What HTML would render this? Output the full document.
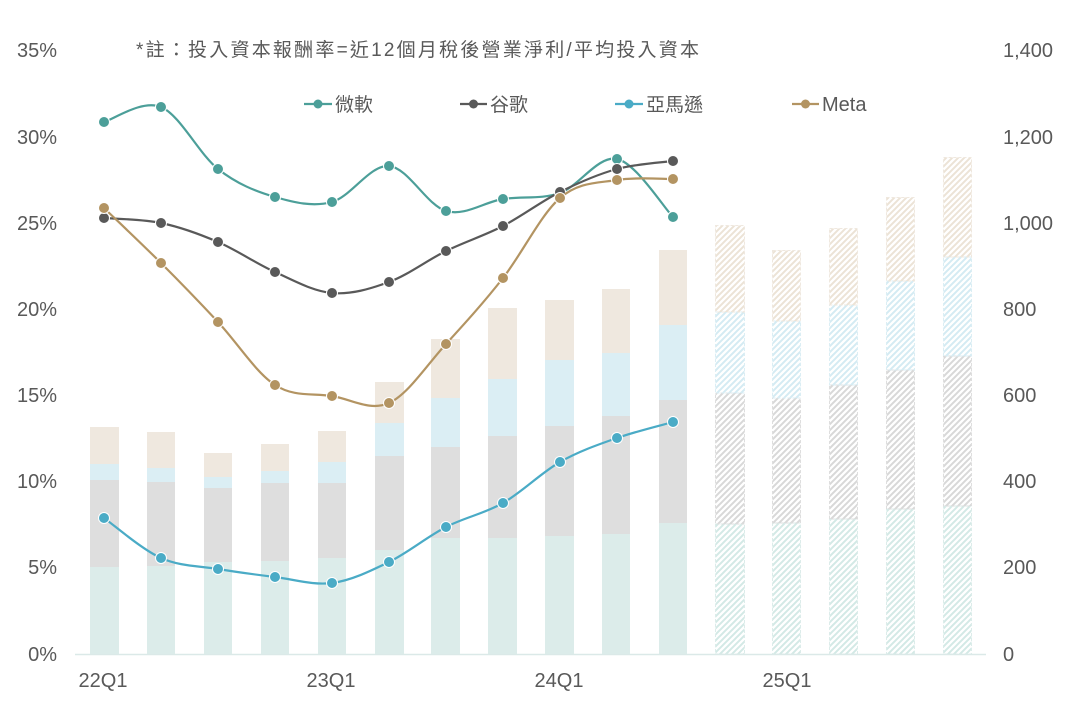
<!DOCTYPE html>
<html>
<head>
<meta charset="utf-8">
<style>
html,body{margin:0;padding:0;background:#fff;}
svg{display:block;}
text{font-family:"Liberation Sans","Noto Sans CJK TC",sans-serif;fill:#595959;}
</style>
</head>
<body>
<svg width="1077" height="718" viewBox="0 0 1077 718" xmlns="http://www.w3.org/2000/svg">
<defs>
  <pattern id="hT" patternUnits="userSpaceOnUse" width="6" height="6">
    <path d="M-1,1 l2,-2 M0,6 l6,-6 M5,7 l2,-2" stroke="#d3e9e6" stroke-width="2"/>
  </pattern>
  <pattern id="hG" patternUnits="userSpaceOnUse" width="6" height="6">
    <path d="M-1,1 l2,-2 M0,6 l6,-6 M5,7 l2,-2" stroke="#d8d8d8" stroke-width="2"/>
  </pattern>
  <pattern id="hB" patternUnits="userSpaceOnUse" width="6" height="6">
    <path d="M-1,1 l2,-2 M0,6 l6,-6 M5,7 l2,-2" stroke="#d4ebf3" stroke-width="2"/>
  </pattern>
  <pattern id="hM" patternUnits="userSpaceOnUse" width="6" height="6">
    <path d="M-1,1 l2,-2 M0,6 l6,-6 M5,7 l2,-2" stroke="#ece3d6" stroke-width="2"/>
  </pattern>
</defs>

<!-- title -->
<text x="136" y="56" font-size="19" textLength="563" lengthAdjust="spacing">*註：投入資本報酬率=近12個月稅後營業淨利/平均投入資本</text>

<!-- left axis labels -->
<g font-size="20" text-anchor="end">
  <text x="57" y="57">35%</text>
  <text x="57" y="144">30%</text>
  <text x="57" y="230">25%</text>
  <text x="57" y="316">20%</text>
  <text x="57" y="402">15%</text>
  <text x="57" y="488">10%</text>
  <text x="57" y="574">5%</text>
  <text x="57" y="661">0%</text>
</g>
<!-- right axis labels -->
<g font-size="20">
  <text x="1003" y="57">1,400</text>
  <text x="1003" y="144">1,200</text>
  <text x="1003" y="230">1,000</text>
  <text x="1003" y="316">800</text>
  <text x="1003" y="402">600</text>
  <text x="1003" y="488">400</text>
  <text x="1003" y="574">200</text>
  <text x="1003" y="661">0</text>
</g>
<!-- x labels -->
<g font-size="20" text-anchor="middle">
  <text x="103" y="687">22Q1</text>
  <text x="331" y="687">23Q1</text>
  <text x="559" y="687">24Q1</text>
  <text x="787" y="687">25Q1</text>
</g>

<!-- solid bars -->
<g>
  <!-- x, top, blueTop, grayTop, tealTop -->
  <rect x="90" y="567" width="29" height="87" fill="#dcecea"/><rect x="90" y="480" width="29" height="87" fill="#dedede"/><rect x="90" y="464" width="29" height="16" fill="#dbeef4"/><rect x="90" y="427" width="29" height="37" fill="#efe8df"/>
  <rect x="147" y="566" width="28" height="88" fill="#dcecea"/><rect x="147" y="482" width="28" height="84" fill="#dedede"/><rect x="147" y="468" width="28" height="14" fill="#dbeef4"/><rect x="147" y="432" width="28" height="36" fill="#efe8df"/>
  <rect x="204" y="562" width="28" height="92" fill="#dcecea"/><rect x="204" y="488" width="28" height="74" fill="#dedede"/><rect x="204" y="477" width="28" height="11" fill="#dbeef4"/><rect x="204" y="453" width="28" height="24" fill="#efe8df"/>
  <rect x="261" y="561" width="28" height="93" fill="#dcecea"/><rect x="261" y="483" width="28" height="78" fill="#dedede"/><rect x="261" y="471" width="28" height="12" fill="#dbeef4"/><rect x="261" y="444" width="28" height="27" fill="#efe8df"/>
  <rect x="318" y="558" width="28" height="96" fill="#dcecea"/><rect x="318" y="483" width="28" height="75" fill="#dedede"/><rect x="318" y="462" width="28" height="21" fill="#dbeef4"/><rect x="318" y="431" width="28" height="31" fill="#efe8df"/>
  <rect x="375" y="550" width="29" height="104" fill="#dcecea"/><rect x="375" y="456" width="29" height="94" fill="#dedede"/><rect x="375" y="423" width="29" height="33" fill="#dbeef4"/><rect x="375" y="382" width="29" height="41" fill="#efe8df"/>
  <rect x="431" y="538" width="29" height="116" fill="#dcecea"/><rect x="431" y="447" width="29" height="91" fill="#dedede"/><rect x="431" y="398" width="29" height="49" fill="#dbeef4"/><rect x="431" y="339" width="29" height="59" fill="#efe8df"/>
  <rect x="488" y="538" width="29" height="116" fill="#dcecea"/><rect x="488" y="436" width="29" height="102" fill="#dedede"/><rect x="488" y="379" width="29" height="57" fill="#dbeef4"/><rect x="488" y="308" width="29" height="71" fill="#efe8df"/>
  <rect x="545" y="536" width="29" height="118" fill="#dcecea"/><rect x="545" y="426" width="29" height="110" fill="#dedede"/><rect x="545" y="360" width="29" height="66" fill="#dbeef4"/><rect x="545" y="300" width="29" height="60" fill="#efe8df"/>
  <rect x="602" y="534" width="28" height="120" fill="#dcecea"/><rect x="602" y="416" width="28" height="118" fill="#dedede"/><rect x="602" y="353" width="28" height="63" fill="#dbeef4"/><rect x="602" y="289" width="28" height="64" fill="#efe8df"/>
  <rect x="659" y="523" width="28" height="131" fill="#dcecea"/><rect x="659" y="400" width="28" height="123" fill="#dedede"/><rect x="659" y="325" width="28" height="75" fill="#dbeef4"/><rect x="659" y="250" width="28" height="75" fill="#efe8df"/>
</g>

<!-- hatched forecast bars -->
<g stroke-width="1" stroke-dasharray="3,2">
  <rect x="715.5" y="524" width="29" height="130" fill="url(#hT)" stroke="#dcecea"/><rect x="715.5" y="393" width="29" height="131" fill="url(#hG)" stroke="#dedede"/><rect x="715.5" y="312" width="29" height="81" fill="url(#hB)" stroke="#dbeef4"/><rect x="715.5" y="225.5" width="29" height="86.5" fill="url(#hM)" stroke="#efe8df"/>
  <rect x="772.5" y="523" width="28" height="131" fill="url(#hT)" stroke="#dcecea"/><rect x="772.5" y="398" width="28" height="125" fill="url(#hG)" stroke="#dedede"/><rect x="772.5" y="321" width="28" height="77" fill="url(#hB)" stroke="#dbeef4"/><rect x="772.5" y="250.5" width="28" height="70.5" fill="url(#hM)" stroke="#efe8df"/>
  <rect x="829.5" y="519" width="28" height="135" fill="url(#hT)" stroke="#dcecea"/><rect x="829.5" y="385" width="28" height="134" fill="url(#hG)" stroke="#dedede"/><rect x="829.5" y="305" width="28" height="80" fill="url(#hB)" stroke="#dbeef4"/><rect x="829.5" y="228.5" width="28" height="76.5" fill="url(#hM)" stroke="#efe8df"/>
  <rect x="886.5" y="509" width="28" height="145" fill="url(#hT)" stroke="#dcecea"/><rect x="886.5" y="370" width="28" height="139" fill="url(#hG)" stroke="#dedede"/><rect x="886.5" y="281" width="28" height="89" fill="url(#hB)" stroke="#dbeef4"/><rect x="886.5" y="197.5" width="28" height="83.5" fill="url(#hM)" stroke="#efe8df"/>
  <rect x="943.5" y="506" width="28" height="148" fill="url(#hT)" stroke="#dcecea"/><rect x="943.5" y="356" width="28" height="150" fill="url(#hG)" stroke="#dedede"/><rect x="943.5" y="257" width="28" height="99" fill="url(#hB)" stroke="#dbeef4"/><rect x="943.5" y="157.5" width="28" height="99.5" fill="url(#hM)" stroke="#efe8df"/>
</g>

<!-- baseline -->
<line x1="75" y1="654.5" x2="986" y2="654.5" stroke="#dbe9e8" stroke-width="1.5"/>

<!-- 微軟 -->
<path d="M104,122 C113.5,119.5 142,99.17 161,107 C180,114.83 199,154 218,169 C237,184 256,191.5 275,197 C294,202.5 313,207.17 332,202 C351,196.83 370,164.5 389,166 C408,167.5 427,205.5 446,211 C465,216.5 484,202 503,199 C522,196 541,199.67 560,193 C579,186.33 598,155 617,159 C636,163 663.5,207.33 673,217" fill="none" stroke="#4c9f99" stroke-width="2.2"/>
<g fill="#4c9f99" stroke="#fff" stroke-width="1">
  <circle cx="104" cy="122" r="5.5"/><circle cx="161" cy="107" r="5.5"/><circle cx="218" cy="169" r="5.5"/><circle cx="275" cy="197" r="5.5"/><circle cx="332" cy="202" r="5.5"/><circle cx="389" cy="166" r="5.5"/><circle cx="446" cy="211" r="5.5"/><circle cx="503" cy="199" r="5.5"/><circle cx="560" cy="193" r="5.5"/><circle cx="617" cy="159" r="5.5"/><circle cx="673" cy="217" r="5.5"/>
</g>

<!-- 谷歌 -->
<path d="M104,218 C113.5,218.83 142,219 161,223 C180,227 199,233.83 218,242 C237,250.17 256,263.5 275,272 C294,280.5 313,291.33 332,293 C351,294.67 370,289 389,282 C408,275 427,260.33 446,251 C465,241.67 484,235.83 503,226 C522,216.17 541,201.5 560,192 C579,182.5 598,174.17 617,169 C636,163.83 663.5,162.33 673,161" fill="none" stroke="#595959" stroke-width="2.2"/>
<g fill="#595959" stroke="#fff" stroke-width="1">
  <circle cx="104" cy="218" r="5.5"/><circle cx="161" cy="223" r="5.5"/><circle cx="218" cy="242" r="5.5"/><circle cx="275" cy="272" r="5.5"/><circle cx="332" cy="293" r="5.5"/><circle cx="389" cy="282" r="5.5"/><circle cx="446" cy="251" r="5.5"/><circle cx="503" cy="226" r="5.5"/><circle cx="560" cy="192" r="5.5"/><circle cx="617" cy="169" r="5.5"/><circle cx="673" cy="161" r="5.5"/>
</g>

<!-- 亞馬遜 -->
<path d="M104,518 C113.5,524.67 142,549.5 161,558 C180,566.5 199,565.83 218,569 C237,572.17 256,574.67 275,577 C294,579.33 313,585.5 332,583 C351,580.5 370,571.33 389,562 C408,552.67 427,536.83 446,527 C465,517.17 484,513.83 503,503 C522,492.17 541,472.83 560,462 C579,451.17 598,444.67 617,438 C636,431.33 663.5,424.67 673,422" fill="none" stroke="#4aabc6" stroke-width="2.2"/>
<g fill="#4aabc6" stroke="#fff" stroke-width="1">
  <circle cx="104" cy="518" r="5.5"/><circle cx="161" cy="558" r="5.5"/><circle cx="218" cy="569" r="5.5"/><circle cx="275" cy="577" r="5.5"/><circle cx="332" cy="583" r="5.5"/><circle cx="389" cy="562" r="5.5"/><circle cx="446" cy="527" r="5.5"/><circle cx="503" cy="503" r="5.5"/><circle cx="560" cy="462" r="5.5"/><circle cx="617" cy="438" r="5.5"/><circle cx="673" cy="422" r="5.5"/>
</g>

<!-- Meta -->
<path d="M104,208 C113.5,217.17 142,244 161,263 C180,282 199,301.67 218,322 C237,342.33 256,372.67 275,385 C294,397.33 313,393 332,396 C351,399 370,411.67 389,403 C408,394.33 427,364.83 446,344 C465,323.17 484,302.33 503,278 C522,253.67 541,214.33 560,198 C579,181.67 598,183.17 617,180 C636,176.83 663.5,179.17 673,179" fill="none" stroke="#b39462" stroke-width="2.2"/>
<g fill="#b39462" stroke="#fff" stroke-width="1">
  <circle cx="104" cy="208" r="5.5"/><circle cx="161" cy="263" r="5.5"/><circle cx="218" cy="322" r="5.5"/><circle cx="275" cy="385" r="5.5"/><circle cx="332" cy="396" r="5.5"/><circle cx="389" cy="403" r="5.5"/><circle cx="446" cy="344" r="5.5"/><circle cx="503" cy="278" r="5.5"/><circle cx="560" cy="198" r="5.5"/><circle cx="617" cy="180" r="5.5"/><circle cx="673" cy="179" r="5.5"/>
</g>

<!-- legend -->
<g font-size="19">
  <line x1="304" y1="104" x2="332" y2="104" stroke="#4c9f99" stroke-width="2.2"/>
  <circle cx="318" cy="104" r="4.5" fill="#4c9f99"/>
  <text x="335" y="111">微軟</text>

  <line x1="460" y1="104" x2="487" y2="104" stroke="#595959" stroke-width="2.2"/>
  <circle cx="473.5" cy="104" r="4.5" fill="#595959"/>
  <text x="490" y="111">谷歌</text>

  <line x1="615" y1="104" x2="643" y2="104" stroke="#4aabc6" stroke-width="2.2"/>
  <circle cx="629" cy="104" r="4.5" fill="#4aabc6"/>
  <text x="646" y="111">亞馬遜</text>

  <line x1="792" y1="104" x2="819" y2="104" stroke="#b39462" stroke-width="2.2"/>
  <circle cx="805.5" cy="104" r="4.5" fill="#b39462"/>
  <text x="822" y="111" font-size="20">Meta</text>
</g>
</svg>
</body>
</html>
